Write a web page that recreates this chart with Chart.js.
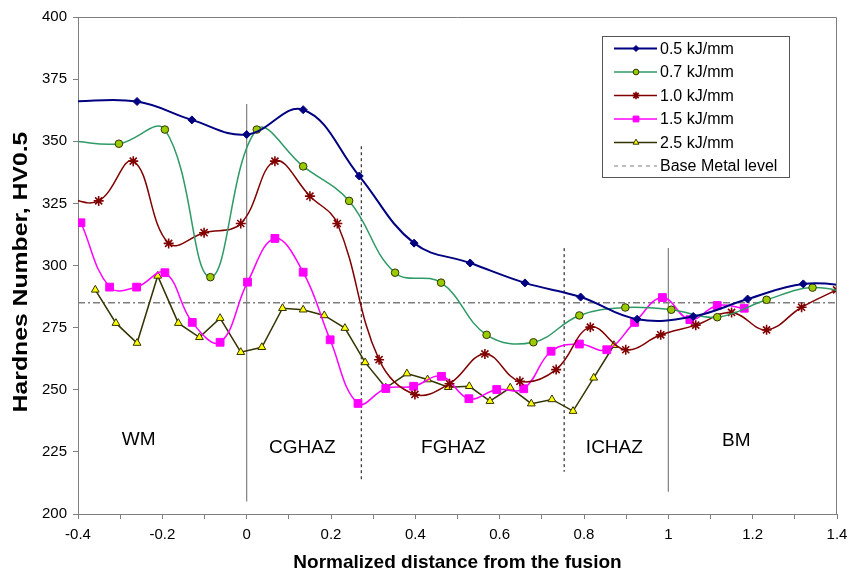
<!DOCTYPE html>
<html>
<head>
<meta charset="utf-8">
<script src="https://cdn.jsdelivr.net/npm/chart.js@4"></script>
<style>
  html, body { margin: 0; padding: 0; background: #fff; }
  #wrap { width: 861px; height: 575px; }
</style>
</head>
<body>
<div id="wrap"><canvas id="hvChart" width="861" height="575"></canvas></div>
<script>
// hardness profiles (x = normalized distance, y = HV0.5)
const xBlue = [-0.42, -0.26, -0.13, 0.0, 0.134, 0.267, 0.397, 0.53, 0.66, 0.792, 0.926, 1.059, 1.188, 1.32, 1.45];
const yBlue = [366, 366, 358.6, 352.7, 362.7, 336, 309, 301, 293, 287.3, 278.4, 279.5, 286.5, 292.6, 291.5];

const xGreen = [-0.412, -0.303, -0.194, -0.086, 0.024, 0.134, 0.243, 0.352, 0.461, 0.569, 0.68, 0.789, 0.898, 1.007, 1.116, 1.233, 1.342, 1.451];
const yGreen = [350, 349, 354.7, 295.3, 354.7, 339.9, 326, 297.1, 293.1, 272.1, 269.1, 279.9, 283.1, 282.2, 279.2, 286.2, 291.1, 288];

const xRed = [-0.435, -0.351, -0.269, -0.185, -0.101, -0.014, 0.067, 0.15, 0.215, 0.314, 0.399, 0.481, 0.565, 0.648, 0.734, 0.815, 0.899, 0.982, 1.065, 1.15, 1.233, 1.316, 1.399];
const yRed = [327.5, 326, 342, 308.9, 313.2, 316.9, 342, 327.9, 316.9, 262.1, 248.1, 252.4, 264.4, 253.4, 258.1, 275.2, 266.1, 272.1, 276, 281.1, 274.1, 283.2, 290.2];

const xPink = [-0.393, -0.325, -0.261, -0.194, -0.129, -0.063, 0.002, 0.067, 0.134, 0.198, 0.264, 0.33, 0.396, 0.462, 0.527, 0.593, 0.657, 0.722, 0.789, 0.854, 0.92, 0.986, 1.051, 1.116, 1.18];
const yPink = [317.2, 291.3, 291.3, 297.1, 277.1, 269.1, 293.3, 310.9, 297.3, 270.1, 244.5, 250.5, 251.4, 255.4, 246.4, 250.1, 250.4, 265.5, 268.4, 266.1, 277.1, 287.1, 278.2, 283.9, 282.8];

const xOlive = [-0.359, -0.31, -0.26, -0.211, -0.162, -0.112, -0.063, -0.014, 0.036, 0.085, 0.134, 0.184, 0.233, 0.281, 0.33, 0.38, 0.429, 0.478, 0.528, 0.577, 0.625, 0.675, 0.724, 0.774, 0.823, 0.871];
const yOlive = [290.2, 276.8, 268.8, 295.8, 276.8, 271.1, 278.8, 265.1, 267.1, 282.8, 282.2, 279.9, 274.8, 261, 250.8, 256.5, 254.1, 251, 251.4, 245.4, 250.8, 244.4, 246.1, 241.4, 254.8, 267.9];

const baseLevel = 285;

// zone boundaries and zone names
const zoneX = [0, 0.272, 0.753, 1.0];
const zoneTop = [365, 348, 307, 307];
const zoneBottom = [205, 213, 217, 209];
const zoneNames = ['WM', 'CGHAZ', 'FGHAZ', 'ICHAZ', 'BM'];
const zoneLabelX = [-0.256, 0.132, 0.49, 0.872, 1.161];
const zoneLabelY = [227.8, 224.4, 224.4, 224.4, 227.4];

const xMin = -0.4, xMax = 1.4, yMin = 200, yMax = 400;
const yTitle = 'Hardnes Number, HV0.5';

function pts(xs, ys) {
  return xs.map((x, i) => ({ x: x, y: ys[i] }));
}

const series = [
  { label: '0.5 kJ/mm', xs: xBlue, ys: yBlue, line: '#000080', fill: '#000080', edge: '#000080', style: 'rectRot', r: 4, tension: 0.4, width: 2, pw: 1 },
  { label: '0.7 kJ/mm', xs: xGreen, ys: yGreen, line: '#2e9a66', fill: '#99cc00', edge: '#333300', style: 'circle', r: 3.8, tension: 0.4, width: 1.5, pw: 1 },
  { label: '1.0 kJ/mm', xs: xRed, ys: yRed, line: '#800000', fill: '#800000', edge: '#800000', style: 'star', r: 5, tension: 0.4, width: 1.5, pw: 1.6 },
  { label: '1.5 kJ/mm', xs: xPink, ys: yPink, line: '#ff00ff', fill: '#ff00ff', edge: '#ff00ff', style: 'rect', r: 5.5, tension: 0.4, width: 1.5, pw: 1 },
  { label: '2.5 kJ/mm', xs: xOlive, ys: yOlive, line: '#333300', fill: '#ffff00', edge: '#333300', style: 'triangle', r: 4.5, tension: 0, width: 1.5, pw: 1 }
];

const datasets = series.map(s => ({
  label: s.label,
  data: pts(s.xs, s.ys),
  borderColor: s.line,
  borderWidth: s.width,
  backgroundColor: s.fill,
  pointBackgroundColor: s.fill,
  pointBorderColor: s.edge,
  pointBorderWidth: s.pw,
  pointStyle: s.style,
  pointRadius: s.r,
  tension: s.tension,
  fill: false,
  inLegend: true
}));

datasets.push({
  label: 'Base Metal level',
  data: pts([xMin, xMax], [baseLevel, baseLevel]),
  borderColor: '#7f7f7f',
  borderWidth: 1.5,
  borderDash: [7, 3, 2, 3],
  pointRadius: 0,
  fill: false,
  inLegend: true,
  legendDash: [4, 4]
});

zoneX.forEach((zx, i) => {
  const dotted = i === 1 || i === 2;
  datasets.push({
    label: 'zone' + i,
    data: pts([zx, zx], [zoneTop[i], zoneBottom[i]]),
    borderColor: dotted ? '#404040' : '#808080',
    borderWidth: dotted ? 1.3 : 1.2,
    borderDash: dotted ? [3, 3] : [],
    pointRadius: 0,
    fill: false,
    inLegend: false
  });
});

const frameAndLabels = {
  id: 'frameAndLabels',
  afterDatasetsDraw(chart) {
    const { ctx, chartArea: a, scales: { x, y } } = chart;
    ctx.save();
    ctx.strokeStyle = '#7f7f7f';
    ctx.lineWidth = 1;
    ctx.beginPath();
    ctx.moveTo(a.left, a.top + 0.5);
    ctx.lineTo(a.right - 0.5, a.top + 0.5);
    ctx.lineTo(a.right - 0.5, a.bottom);
    ctx.stroke();

    ctx.fillStyle = '#000';
    ctx.font = '19px "Liberation Sans", Arial, sans-serif';
    ctx.textAlign = 'center';
    ctx.textBaseline = 'alphabetic';
    zoneNames.forEach((n, i) => {
      ctx.fillText(n, x.getPixelForValue(zoneLabelX[i]), y.getPixelForValue(zoneLabelY[i]));
    });

    // y axis title, drawn a bit stretched along its length like the original
    ctx.save();
    ctx.translate(22, 272);
    ctx.rotate(-Math.PI / 2);
    ctx.scale(1.27, 1);
    ctx.font = 'bold 19.5px "Liberation Sans", Arial, sans-serif';
    ctx.textAlign = 'center';
    ctx.textBaseline = 'middle';
    ctx.fillText(yTitle, 0, 0);
    ctx.restore();

    // legend box
    const bx = 602, by = 36, bw = 187, bh = 141;
    ctx.fillStyle = '#fff';
    ctx.fillRect(bx, by, bw, bh);
    ctx.strokeStyle = '#555';
    ctx.strokeRect(bx + 0.5, by + 0.5, bw, bh);
    ctx.font = '16px "Liberation Sans", Arial, sans-serif';
    ctx.textAlign = 'left';
    ctx.textBaseline = 'middle';
    const items = chart.data.datasets.filter(d => d.inLegend);
    items.forEach((d, i) => {
      const ry = 48.5 + i * 23.5;
      ctx.save();
      ctx.strokeStyle = d.borderColor;
      ctx.lineWidth = d.legendDash ? 1 : d.borderWidth;
      ctx.setLineDash(d.legendDash || []);
      ctx.beginPath();
      ctx.moveTo(614, ry);
      ctx.lineTo(657, ry);
      ctx.stroke();
      ctx.restore();
      if (d.pointRadius > 0 && Chart.helpers && Chart.helpers.drawPoint) {
        ctx.save();
        ctx.fillStyle = d.pointBackgroundColor;
        ctx.strokeStyle = d.pointBorderColor;
        ctx.lineWidth = d.pointBorderWidth;
        Chart.helpers.drawPoint(ctx, {
          pointStyle: d.pointStyle,
          radius: d.pointRadius * 0.75,
          rotation: 0,
          borderWidth: d.pointBorderWidth
        }, 636, ry);
        ctx.restore();
      }
      ctx.fillStyle = '#000';
      ctx.fillText(d.label, 660, ry + 1);
    });
    ctx.restore();
  }
};

new Chart(document.getElementById('hvChart'), {
  type: 'line',
  data: { datasets },
  options: {
    responsive: false,
    animation: false,
    layout: { padding: { top: 17, right: 24, left: 0, bottom: 0 } },
    plugins: {
      legend: { display: false },
      tooltip: { enabled: false }
    },
    scales: {
      x: {
        type: 'linear',
        min: xMin,
        max: xMax,
        afterFit: s => { s.height = 61; },
        border: { color: '#7f7f7f', width: 1 },
        grid: { drawOnChartArea: false, drawTicks: true, tickLength: 5, color: '#7f7f7f' },
        ticks: {
          stepSize: 0.1,
          autoSkip: false,
          maxRotation: 0,
          padding: 7,
          color: '#000',
          font: { family: '"Liberation Sans", Arial, sans-serif', size: 15 },
          callback: v => {
            const t = Math.round(v * 10);
            return t % 2 === 0 ? String(t / 10) : '';
          }
        },
        title: {
          display: true,
          text: 'Normalized distance from the fusion',
          color: '#000',
          font: { family: '"Liberation Sans", Arial, sans-serif', size: 19, weight: 'bold' },
          padding: { top: 0, bottom: 1 }
        }
      },
      y: {
        min: yMin,
        max: yMax,
        afterFit: s => { s.width = 78; },
        border: { color: '#7f7f7f', width: 1 },
        grid: { drawOnChartArea: false, drawTicks: true, tickLength: 5, color: '#7f7f7f' },
        ticks: {
          stepSize: 25,
          padding: 6,
          color: '#000',
          font: { family: '"Liberation Sans", Arial, sans-serif', size: 15 }
        }
      }
    }
  },
  plugins: [frameAndLabels]
});
</script>
</body>
</html>
